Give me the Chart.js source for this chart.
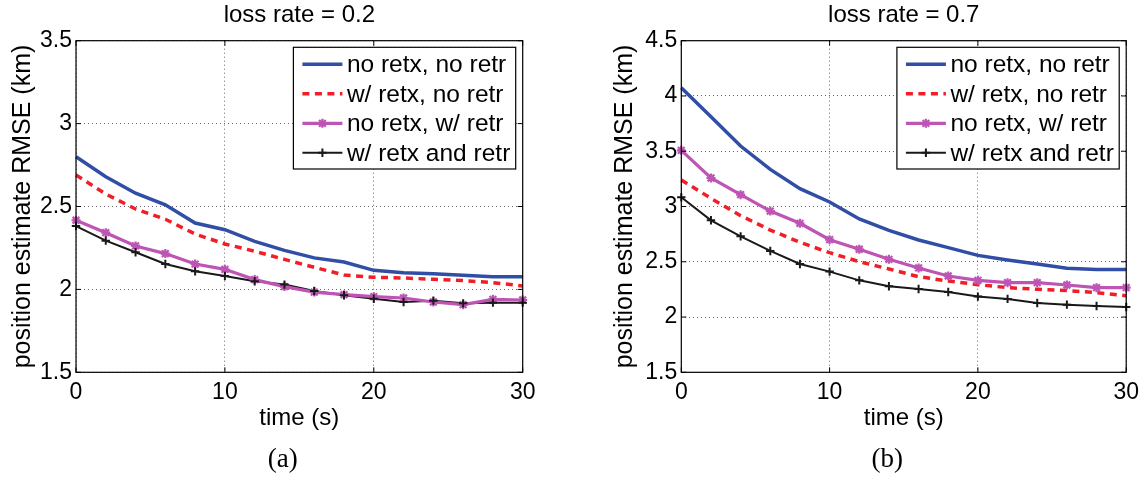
<!DOCTYPE html>
<html><head><meta charset="utf-8">
<script src="https://cdn.jsdelivr.net/npm/chart.js@4.4.0/dist/chart.umd.min.js"></script>
<style>
html,body{margin:0;padding:0;background:#fff;}
#wrap{position:relative;width:1146px;height:477px;overflow:hidden;background:#fff;}
canvas{position:absolute;top:0;}
</style></head><body>
<div id="wrap">
<canvas id="cA" width="600" height="477" style="left:0px"></canvas>
<canvas id="cB" width="546" height="477" style="left:600px"></canvas>
</div>
<script>
// ---- data ----
const time = [0,2,4,6,8,10,12,14,16,18,20,22,24,26,28,30];
const seriesNames = ['no retx, no retr','w/ retx, no retr','no retx, w/ retr','w/ retx and retr'];
// panel (a): loss rate = 0.2
const a_noRetxNoRetr = [2.80,2.68,2.58,2.51,2.40,2.36,2.29,2.235,2.19,2.165,2.115,2.10,2.095,2.085,2.077,2.077];
const a_retxNoRetr   = [2.69,2.575,2.485,2.423,2.334,2.274,2.23,2.181,2.133,2.087,2.073,2.069,2.061,2.053,2.041,2.021];
const a_noRetxRetr   = [2.417,2.342,2.262,2.216,2.153,2.121,2.059,2.017,1.984,1.968,1.956,1.948,1.924,1.908,1.94,1.936];
const a_retxRetr     = [2.382,2.294,2.224,2.153,2.109,2.081,2.049,2.029,1.99,1.965,1.944,1.924,1.932,1.916,1.92,1.92];
// panel (b): loss rate = 0.7
const b_noRetxNoRetr = [4.075,3.813,3.547,3.336,3.161,3.041,2.887,2.784,2.697,2.628,2.558,2.516,2.48,2.441,2.429,2.429];
const b_retxNoRetr   = [3.24,3.074,2.917,2.787,2.676,2.582,2.501,2.435,2.365,2.326,2.293,2.266,2.251,2.239,2.221,2.193];
const b_noRetxRetr   = [3.508,3.258,3.107,2.959,2.848,2.70,2.613,2.522,2.444,2.371,2.332,2.311,2.311,2.29,2.266,2.266];
const b_retxRetr     = [3.083,2.875,2.73,2.598,2.48,2.411,2.332,2.278,2.254,2.227,2.185,2.164,2.127,2.112,2.10,2.091];
const xTicks  = [0,10,20,30];
const yTicksA = [1.5,2,2.5,3,3.5];
const yTicksB = [1.5,2,2.5,3,3.5,4,4.5];
const panelTitles = ['loss rate = 0.2','loss rate = 0.7'];
const captions = ['(a)','(b)'];
const yTitle = 'position estimate RMSE (km)';
const xTitle = 'time (s)';

// ---- styles ----
const FONT = "'Liberation Sans', Arial, Helvetica, sans-serif";
Chart.defaults.font.family = FONT;
Chart.defaults.color = '#000';
const styles = [
  {color:'rgb(48,78,165)',  width:3.5, dash:[],      point:null},
  {color:'rgb(240,30,38)',  width:3.5, dash:[7,5.5], point:null},
  {color:'rgb(190,84,180)', width:3.2, dash:[],      point:'star',  r:4.5, pw:2.2},
  {color:'rgb(25,25,25)',   width:2.0, dash:[],      point:'cross', r:4.2, pw:2}
];

function drawMarker(ctx, kind, x, y, r, lw, color) {
  ctx.save();
  ctx.strokeStyle = color; ctx.lineWidth = lw; ctx.setLineDash([]);
  ctx.beginPath();
  ctx.moveTo(x - r, y); ctx.lineTo(x + r, y);
  ctx.moveTo(x, y - r); ctx.lineTo(x, y + r);
  if (kind === 'star') {
    const d = r * 0.75;
    ctx.moveTo(x - d, y - d); ctx.lineTo(x + d, y + d);
    ctx.moveTo(x - d, y + d); ctx.lineTo(x + d, y - d);
  }
  ctx.stroke();
  ctx.restore();
}

const figPlugin = {
  id: 'fig',
  afterDatasetsDraw(chart, args, o) {
    const ctx = chart.ctx, ca = chart.chartArea;
    const xs = chart.scales.x, ys = chart.scales.y;
    ctx.save();
    // box
    ctx.strokeStyle = '#000'; ctx.lineWidth = 1.2; ctx.setLineDash([]);
    ctx.strokeRect(ca.left, ca.top, ca.right - ca.left, ca.bottom - ca.top);
    // inward ticks
    const tl = 5;
    ctx.lineWidth = 1;
    ctx.beginPath();
    xTicks.forEach(v => {
      const px = xs.getPixelForValue(v);
      ctx.moveTo(px, ca.bottom); ctx.lineTo(px, ca.bottom - tl);
      ctx.moveTo(px, ca.top); ctx.lineTo(px, ca.top + tl);
    });
    o.yTicks.forEach(v => {
      const py = ys.getPixelForValue(v);
      ctx.moveTo(ca.left, py); ctx.lineTo(ca.left + tl, py);
      ctx.moveTo(ca.right, py); ctx.lineTo(ca.right - tl, py);
    });
    ctx.stroke();
    // legend
    const bw = 222.3, bh = 121.7;
    const bx = ca.right - 7 - bw, by = ca.top + 6.6;
    ctx.fillStyle = '#fff';
    ctx.fillRect(bx, by, bw, bh);
    ctx.strokeStyle = '#000'; ctx.lineWidth = 1.2;
    ctx.strokeRect(bx, by, bw, bh);
    chart.data.datasets.forEach((ds, i) => {
      const st = styles[i];
      const ry = by + 17 + i * 29.5;
      ctx.save();
      ctx.strokeStyle = st.color; ctx.lineWidth = st.width; ctx.setLineDash(st.dash);
      ctx.beginPath(); ctx.moveTo(bx + 9, ry); ctx.lineTo(bx + 49, ry); ctx.stroke();
      ctx.restore();
      if (st.point) drawMarker(ctx, st.point, bx + 29, ry, st.r, st.pw, st.color);
      ctx.fillStyle = '#000';
      ctx.font = '24.5px ' + FONT;
      ctx.textAlign = 'left'; ctx.textBaseline = 'middle';
      ctx.fillText(ds.label, bx + 53.5, ry + 1);
    });
    ctx.restore();
  },
  afterDraw(chart, args, o) {
    const ctx = chart.ctx, ca = chart.chartArea;
    const cx = (ca.left + ca.right) / 2;
    ctx.save();
    ctx.fillStyle = '#000';
    ctx.textAlign = 'center'; ctx.textBaseline = 'alphabetic';
    ctx.font = '24px ' + FONT;
    ctx.fillText(o.title, cx, 21.7);
    ctx.font = "27px 'Liberation Serif', 'Times New Roman', serif";
    ctx.fillText(o.caption, cx - 16.5, 466.5);
    ctx.restore();
  }
};

function makeChart(id, vals, yTicks, area, yTitleCx, title, caption) {
  const cv = document.getElementById(id);
  const W = cv.width, H = cv.height;
  const datasets = vals.map((v, i) => {
    const st = styles[i];
    return {
      label: seriesNames[i],
      data: time.map((t, k) => ({x: t, y: v[k]})),
      borderColor: st.color, backgroundColor: st.color,
      borderWidth: st.width, borderDash: st.dash,
      pointRadius: 0, tension: 0, clip: 8
    };
  });
  const markerPlugin = {
    id: 'markers',
    afterDatasetsDraw(chart) {
      const ctx = chart.ctx;
      chart.data.datasets.forEach((ds, i) => {
        const st = styles[i];
        if (!st.point) return;
        chart.getDatasetMeta(i).data.forEach(pt => drawMarker(ctx, st.point, pt.x, pt.y, st.r, st.pw, st.color));
      });
    }
  };
  return new Chart(cv, {
    type: 'line',
    data: {datasets},
    plugins: [markerPlugin, figPlugin],
    options: {
      responsive: false, animation: false, devicePixelRatio: 1,
      layout: {padding: {left: 0, top: area.top, right: W - area.right, bottom: 0}},
      plugins: {legend: {display: false}, tooltip: {enabled: false}, fig: {yTicks, title, caption}},
      scales: {
        x: {
          type: 'linear', min: 0, max: 30,
          afterBuildTicks: s => { s.ticks = xTicks.map(v => ({value: v})); },
          ticks: {padding: 7, font: {size: 23}, color: '#000', maxRotation: 0, autoSkip: false, callback: v => String(v)},
          grid: {drawTicks: false, color: 'rgba(0,0,0,0.6)', lineWidth: 1},
          border: {display: false, dash: [1, 3]},
          title: {display: true, text: xTitle, font: {size: 24}, color: '#000', padding: {top: 0, bottom: 44.6}},
          afterFit: s => { s.height = H - area.bottom; }
        },
        y: {
          type: 'linear', min: yTicks[0], max: yTicks[yTicks.length - 1],
          afterBuildTicks: s => { s.ticks = yTicks.map(v => ({value: v})); },
          ticks: {padding: 4, font: {size: 23}, color: '#000', autoSkip: false, callback: v => String(v)},
          grid: {drawTicks: false, color: 'rgba(0,0,0,0.6)', lineWidth: 1},
          border: {display: false, dash: [1, 3]},
          title: {display: true, text: yTitle, font: {size: 25}, color: '#000', padding: {top: yTitleCx - 15, bottom: 0}},
          afterFit: s => { s.width = area.left; }
        }
      }
    }
  });
}

makeChart('cA', [a_noRetxNoRetr, a_retxNoRetr, a_noRetxRetr, a_retxRetr], yTicksA,
  {left: 76, right: 522.7, top: 40.7, bottom: 372.3}, 23, panelTitles[0], captions[0]);
makeChart('cB', [b_noRetxNoRetr, b_retxNoRetr, b_noRetxRetr, b_retxRetr], yTicksB,
  {left: 81.3, right: 526.7, top: 40.7, bottom: 372.3}, 25, panelTitles[1], captions[1]);
</script>
</body></html>
